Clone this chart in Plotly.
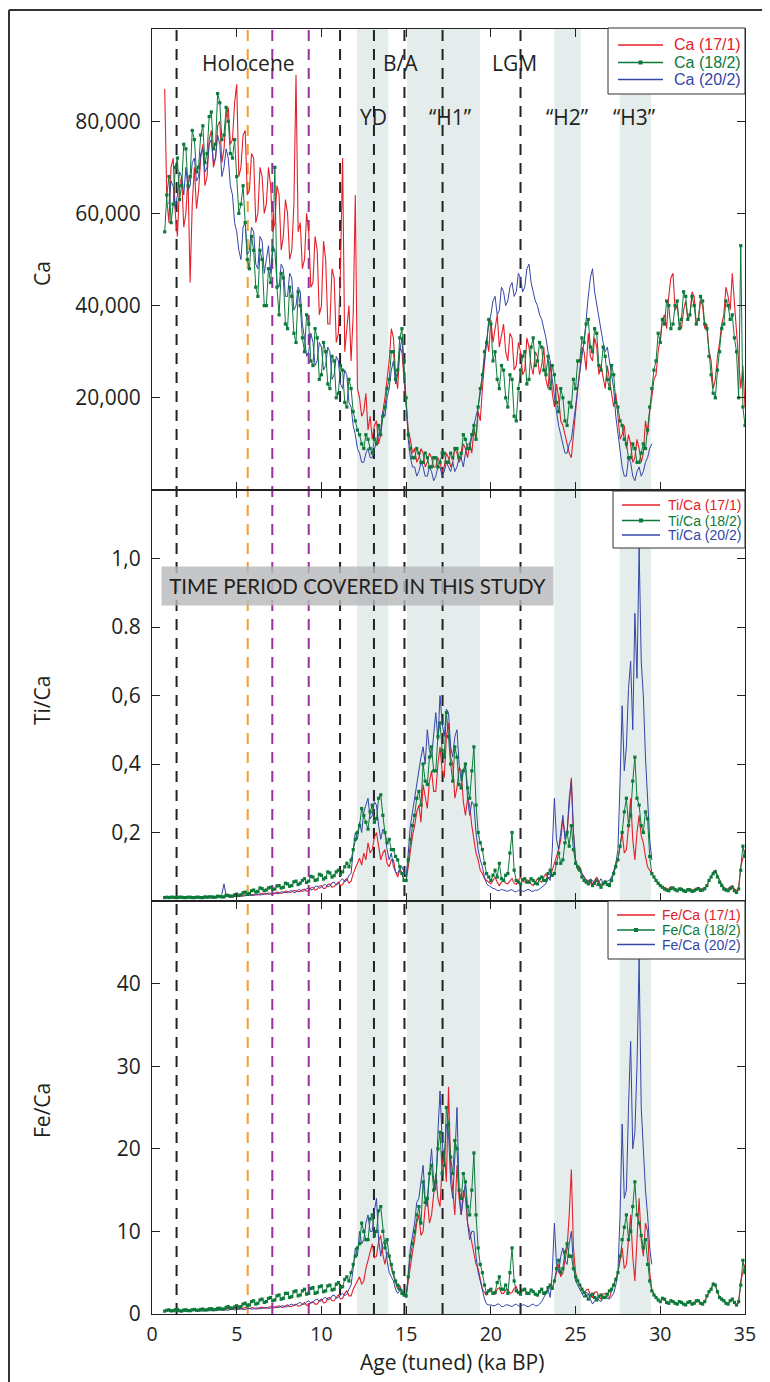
import plotly.graph_objects as go
from plotly.subplots import make_subplots

# ---------------- data ----------------
# sampling grid of the hand-read values (ka BP)
AGES = [0.75 + 0.125 * i for i in range(275)]         # 0.75 .. 35.0
BLUE_AGES = [1.0 + 0.125 * i for i in range(229)]     # 1.0 .. 29.5

# Ca counts in thousands
CA_17_1 = [87, 63, 58, 70, 72, 60, 55, 66, 68, 57, 60, 68, 45, 62, 70, 61,
           65, 72, 75, 66, 68, 76, 78, 70, 72, 79, 80, 71, 74, 81, 83, 75,
           76, 84, 88, 68, 70, 77, 78, 64, 65, 73, 72, 58, 60, 70, 68, 60,
           62, 70, 66, 56, 58, 66, 64, 52, 55, 63, 60, 50, 52, 62, 90, 56,
           58, 48, 50, 60, 56, 44, 45, 55, 52, 38, 40, 54, 50, 36, 36, 48,
           46, 32, 34, 48, 72, 30, 35, 40, 28, 38, 64, 22, 20, 16, 17, 21,
           13, 16, 11, 14, 15, 10, 12, 17, 20, 24, 28, 35, 33, 25, 22, 31,
           30, 24, 18, 13, 11, 8, 9, 6, 7, 9, 8, 5, 6, 8, 7, 5,
           5, 7, 6, 4, 5, 8, 7, 5, 6, 9, 8, 6, 7, 10, 9, 7,
           10, 8, 13, 11, 17, 15, 22, 28, 33, 30, 37, 32, 35, 38, 31, 34,
           36, 30, 28, 34, 33, 26, 27, 32, 30, 25, 26, 33, 31, 27, 25, 30,
           29, 25, 27, 31, 24, 22, 28, 21, 18, 23, 20, 15, 14, 12, 10, 8,
           7, 12, 18, 22, 26, 31, 30, 26, 34, 29, 28, 33, 31, 25, 27, 24,
           22, 27, 24, 20, 18, 21, 15, 11, 12, 14, 9, 12, 10, 6, 7, 11,
           9, 6, 8, 15, 12, 17, 20, 24, 25, 30, 33, 37, 38, 35, 42, 46,
           47, 39, 40, 36, 35, 39, 41, 37, 38, 43, 42, 36, 37, 41, 40, 35,
           36, 30, 28, 22, 24, 29, 32, 36, 38, 44, 42, 39, 47, 40, 35, 28,
           22, 27, 18]
CA_18_2 = [56, 64, 68, 58, 62, 70, 72, 63, 66, 75, 74, 66, 68, 78, 76, 69,
           70, 77, 79, 71, 73, 81, 82, 74, 75, 86, 84, 76, 77, 83, 80, 73,
           72, 76, 68, 60, 62, 66, 58, 50, 48, 55, 52, 44, 42, 52, 50, 40,
           40, 48, 45, 52, 70, 44, 38, 47, 46, 36, 35, 44, 42, 34, 32, 43,
           40, 33, 30, 38, 36, 28, 27, 35, 33, 24, 25, 32, 30, 23, 22, 29,
           28, 20, 21, 27, 26, 19, 18, 24, 22, 17, 15, 13, 12, 10, 9, 12,
           11, 9, 8, 11, 10, 14, 12, 16, 18, 22, 24, 30, 30, 24, 26, 33,
           35, 28, 20, 12, 9, 7, 7, 9, 8, 6, 6, 8, 7, 5, 5, 7,
           7, 5, 6, 8, 8, 6, 6, 8, 7, 9, 9, 7, 8, 12, 11, 9,
           9, 12, 14, 11, 18, 22, 25, 30, 32, 37, 36, 28, 30, 24, 22, 27,
           26, 20, 18, 25, 24, 16, 15, 22, 26, 29, 30, 23, 24, 31, 33, 27,
           28, 32, 31, 26, 25, 29, 22, 27, 25, 19, 17, 22, 20, 15, 14, 19,
           18, 24, 22, 28, 28, 33, 32, 36, 37, 31, 30, 35, 34, 27, 26, 31,
           29, 24, 22, 27, 25, 19, 18, 15, 14, 11, 10, 7, 7, 10, 9, 6,
           6, 8, 10, 9, 13, 18, 22, 26, 28, 34, 32, 37, 36, 41, 40, 35,
           36, 40, 41, 35, 37, 43, 42, 37, 38, 42, 40, 36, 37, 42, 41, 36,
           35, 29, 25, 21, 20, 26, 30, 35, 36, 41, 40, 37, 38, 33, 30, 20,
           53, 18, 14]
CA_20_2 = [62, 67, 66, 61, 64, 69, 68, 64, 70, 65, 66, 71, 72, 67, 68, 73,
           74, 69, 70, 75, 76, 71, 72, 77, 75, 68, 70, 74, 72, 66, 64, 58,
           56, 52, 50, 57, 58, 51, 52, 57, 56, 49, 48, 55, 54, 47, 50, 53,
           47, 53, 52, 45, 44, 49, 48, 42, 42, 47, 46, 39, 40, 44, 43, 36,
           33, 29, 30, 34, 32, 27, 28, 32, 31, 26, 27, 31, 30, 24, 25, 29,
           28, 23, 22, 26, 25, 19, 18, 14, 12, 9, 8, 6, 6, 8, 9, 7,
           7, 9, 10, 12, 13, 17, 16, 20, 22, 26, 28, 23, 25, 30, 33, 26,
           18, 11, 7, 5, 5, 3, 4, 6, 5, 3, 3, 5, 4, 2, 3, 5,
           5, 3, 4, 6, 5, 4, 6, 4, 5, 7, 7, 5, 8, 10, 10, 12,
           14, 16, 18, 21, 24, 28, 32, 36, 38, 41, 42, 38, 39, 44, 43, 40,
           41, 44, 45, 42, 43, 47, 46, 43, 44, 48, 49, 45, 43, 41, 40, 38,
           37, 35, 33, 30, 28, 24, 20, 17, 14, 12, 10, 8, 8, 10, 11, 14,
           18, 22, 26, 29, 32, 38, 42, 46, 48, 43, 40, 37, 35, 32, 30, 31,
           28, 25, 22, 16, 12, 8, 5, 3, 3, 7, 6, 3, 2, 4, 5, 3,
           4, 6, 7, 9, 10]

TICA_17_1 = [.010, .012, .011, .010, .010, .012, .012, .010, .010, .011, .011, .010, .010, .012, .012, .011,
             .011, .012, .010, .011, .012, .011, .011, .013, .012, .011, .013, .014, .012, .013, .014, .012,
             .013, .016, .015, .013, .014, .018, .017, .015, .016, .019, .019, .017, .018, .022, .021, .019,
             .020, .024, .023, .020, .022, .026, .025, .022, .024, .029, .028, .025, .026, .031, .030, .027,
             .028, .033, .035, .029, .030, .038, .040, .032, .034, .043, .045, .036, .038, .048, .050, .040,
             .042, .050, .055, .045, .048, .060, .065, .052, .058, .080, .095, .110, .125, .105, .140, .120,
             .170, .140, .150, .185, .200, .160, .120, .140, .150, .110, .100, .120, .120, .085, .070, .090,
             .080, .060, .060, .100, .150, .190, .220, .260, .280, .230, .340, .300, .270, .350, .380, .320,
             .320, .400, .450, .380, .360, .480, .520, .420, .400, .300, .330, .390, .380, .290, .250, .300,
             .280, .220, .180, .140, .120, .090, .080, .065, .060, .055, .050, .060, .070, .055, .045, .055,
             .060, .052, .050, .058, .065, .052, .048, .060, .070, .058, .055, .062, .060, .050, .045, .055,
             .065, .058, .055, .070, .080, .065, .070, .090, .110, .130, .150, .180, .240, .190, .200, .280,
             .360, .200, .120, .090, .100, .080, .070, .062, .060, .052, .050, .060, .070, .055, .045, .052,
             .060, .050, .050, .065, .090, .110, .120, .160, .200, .140, .150, .220, .300, .180, .120, .200,
             .250, .190, .170, .130, .100, .090, .080, .070, .060, .050, .045, .040, .040, .036, .035, .042,
             .040, .035, .032, .037, .038, .033, .030, .035, .036, .031, .034, .038, .040, .036, .035, .039,
             .045, .060, .070, .085, .090, .075, .060, .050, .040, .036, .035, .042, .045, .035, .030, .040,
             .100, .130, .150]
TICA_18_2 = [.010, .011, .010, .011, .011, .010, .010, .011, .011, .010, .010, .011, .011, .010, .010, .011,
             .011, .010, .010, .012, .011, .012, .012, .011, .011, .014, .013, .012, .012, .017, .016, .014,
             .014, .018, .020, .016, .018, .024, .026, .020, .022, .030, .032, .026, .028, .038, .036, .030,
             .032, .038, .040, .034, .035, .044, .045, .038, .040, .052, .050, .043, .045, .056, .058, .048,
             .052, .060, .065, .054, .058, .072, .070, .060, .062, .078, .075, .064, .068, .085, .082, .070,
             .074, .085, .090, .078, .085, .100, .110, .100, .120, .150, .180, .200, .220, .270, .250, .230,
             .210, .260, .280, .230, .240, .300, .310, .250, .200, .170, .180, .150, .150, .130, .120, .100,
             .080, .060, .060, .120, .180, .220, .250, .300, .320, .280, .400, .350, .340, .420, .450, .380,
             .380, .480, .520, .440, .420, .550, .480, .400, .350, .450, .420, .340, .330, .380, .400, .330,
             .300, .380, .450, .280, .200, .170, .150, .110, .080, .070, .060, .075, .090, .070, .110, .065,
             .060, .075, .080, .140, .200, .090, .060, .055, .050, .062, .065, .055, .055, .065, .060, .052,
             .050, .065, .070, .060, .060, .080, .090, .075, .080, .110, .140, .110, .120, .170, .200, .160,
             .220, .150, .110, .100, .090, .070, .060, .055, .050, .058, .045, .052, .060, .048, .040, .050,
             .055, .048, .045, .060, .080, .100, .120, .160, .200, .260, .300, .220, .250, .350, .420, .300,
             .280, .220, .200, .260, .240, .130, .080, .070, .060, .052, .045, .040, .035, .032, .030, .036,
             .038, .033, .030, .035, .034, .030, .028, .033, .032, .028, .030, .034, .036, .031, .032, .036,
             .045, .060, .070, .080, .085, .070, .055, .045, .035, .032, .030, .036, .040, .030, .025, .035,
             .090, .160, .130]
TICA_20_2 = [.010, .011, .010, .010, .011, .010, .010, .011, .010, .010, .011, .010, .010, .011, .010, .011,
             .011, .010, .010, .011, .011, .010, .010, .012, .011, .020, .050, .015, .012, .013, .014, .013,
             .013, .015, .016, .014, .015, .017, .018, .016, .016, .019, .020, .017, .018, .021, .022, .019,
             .020, .023, .024, .021, .022, .027, .026, .023, .024, .029, .030, .025, .026, .033, .032, .028,
             .030, .036, .038, .032, .034, .042, .044, .037, .040, .047, .048, .041, .044, .053, .055, .047,
             .050, .060, .065, .056, .060, .075, .080, .150, .200, .180, .230, .200, .260, .280, .300, .240,
             .250, .290, .280, .220, .180, .210, .200, .150, .120, .140, .100, .085, .080, .095, .100, .085,
             .070, .140, .220, .260, .300, .350, .380, .420, .450, .400, .500, .440, .420, .480, .550, .470,
             .600, .520, .480, .560, .550, .450, .420, .480, .500, .400, .350, .380, .400, .300, .250, .290,
             .280, .200, .150, .120, .100, .070, .050, .045, .040, .037, .035, .031, .030, .034, .032, .029,
             .028, .032, .033, .028, .027, .031, .032, .028, .029, .033, .034, .029, .028, .032, .031, .035,
             .040, .046, .050, .070, .060, .150, .300, .180, .150, .200, .250, .180, .200, .300, .350, .200,
             .120, .100, .090, .080, .070, .060, .055, .065, .060, .050, .045, .055, .065, .052, .050, .058,
             .060, .070, .080, .110, .150, .350, .570, .380, .450, .620, .700, .500, .840, .650, 1.030, .700,
             .600, .420, .300, .180, .120]

FECA_17_1 = [.40, .48, .55, .42, .35, .45, .50, .38, .40, .52, .60, .45, .35, .44, .50, .40,
             .45, .50, .55, .44, .40, .52, .60, .48, .45, .55, .55, .48, .50, .60, .65, .52,
             .55, .65, .70, .58, .60, .72, .80, .66, .65, .78, .75, .62, .60, .78, .85, .70,
             .70, .82, .90, .74, .75, .95, 1.0, .82, .80, 1.0, 1.1, .88, .90, 1.1, 1.2, .95,
             1.0, 1.2, 1.4, 1.05, 1.1, 1.4, 1.5, 1.2, 1.2, 1.6, 1.8, 1.35, 1.4, 1.9, 2.0, 1.6,
             1.6, 2.0, 2.3, 1.8, 1.9, 2.5, 2.8, 2.2, 2.2, 3.0, 3.5, 4.0, 4.5, 3.6, 4.0, 5.5,
             6.5, 7.5, 8.5, 6.8, 7.0, 8.8, 9.5, 7.2, 6.0, 7.5, 7.0, 5.5, 4.5, 3.8, 3.0, 3.5,
             2.5, 2.2, 2.0, 4.0, 6.0, 7.5, 9.0, 11.0, 12.0, 9.5, 10.0, 13.0, 14.0, 11.0, 12.0, 15.0,
             17.0, 14.0, 13.0, 18.0, 20.0, 16.0, 27.5, 18.0, 15.0, 12.0, 18.0, 14.0, 12.0, 15.0, 14.0, 11.0,
             10.0, 8.5, 7.0, 6.0, 5.5, 4.0, 3.0, 2.6, 2.3, 2.9, 2.8, 2.4, 2.4, 3.0, 3.2, 2.5,
             2.5, 2.9, 3.0, 2.5, 2.6, 3.1, 3.3, 2.6, 2.4, 2.9, 3.0, 2.5, 2.5, 2.9, 2.8, 2.4,
             2.2, 2.6, 3.0, 2.4, 2.5, 3.0, 3.5, 3.0, 4.0, 5.0, 6.0, 4.5, 5.0, 6.5, 8.0, 12.0,
             17.5, 8.0, 5.0, 4.0, 3.5, 3.0, 2.5, 2.9, 3.0, 2.3, 2.0, 2.6, 2.7, 2.1, 1.8, 2.4,
             2.5, 2.1, 2.0, 2.8, 3.5, 4.2, 5.0, 6.5, 8.0, 5.5, 6.0, 9.0, 12.0, 7.0, 4.0, 9.0,
             14.0, 9.0, 7.0, 11.0, 10.0, 5.0, 3.0, 2.4, 2.0, 1.7, 1.5, 1.8, 1.7, 1.4, 1.3, 1.6,
             1.6, 1.3, 1.2, 1.5, 1.5, 1.2, 1.1, 1.4, 1.4, 1.1, 1.2, 1.5, 1.6, 1.3, 1.3, 1.6,
             2.0, 2.6, 3.0, 3.8, 3.5, 2.6, 2.0, 1.7, 1.5, 1.3, 1.2, 1.6, 1.8, 1.3, 1.0, 1.4,
             4.0, 5.0, 6.0]
FECA_18_2 = [.35, .45, .50, .38, .40, .52, .55, .40, .35, .48, .50, .42, .40, .50, .55, .45,
             .45, .55, .60, .48, .50, .62, .65, .52, .55, .68, .70, .58, .60, .80, .90, .72,
             .70, .85, 1.0, .82, .90, 1.2, 1.3, 1.0, 1.1, 1.5, 1.6, 1.2, 1.3, 1.7, 1.8, 1.4,
             1.5, 1.9, 2.0, 1.6, 1.7, 2.2, 2.3, 1.8, 1.9, 2.5, 2.5, 2.0, 2.1, 2.7, 2.8, 2.2,
             2.3, 2.8, 3.0, 2.4, 2.5, 3.1, 3.2, 2.5, 2.6, 3.3, 3.4, 2.7, 2.8, 3.4, 3.5, 2.9,
             3.0, 3.6, 3.8, 3.2, 3.3, 4.2, 4.5, 4.0, 5.0, 6.0, 7.0, 8.0, 8.5, 11.0, 10.0, 9.0,
             9.0, 11.5, 12.0, 9.5, 10.0, 12.5, 13.0, 10.0, 8.0, 9.0, 7.0, 6.0, 5.0, 4.0, 3.5, 3.0,
             2.5, 2.3, 2.2, 4.5, 7.0, 8.5, 10.0, 12.0, 13.0, 11.0, 16.0, 13.5, 14.0, 17.0, 18.0, 15.0,
             16.0, 20.0, 22.0, 17.0, 18.0, 25.0, 23.0, 19.0, 17.0, 21.0, 20.0, 15.0, 14.0, 17.0, 16.0, 13.0,
             12.0, 15.0, 19.5, 12.0, 8.0, 6.0, 5.0, 3.5, 2.5, 2.8, 3.0, 2.5, 2.6, 3.8, 4.5, 3.0,
             3.0, 3.5, 2.5, 5.0, 8.0, 4.0, 2.8, 2.6, 2.4, 2.9, 3.0, 2.5, 2.5, 2.9, 2.7, 2.4,
             2.3, 2.7, 3.0, 2.5, 2.6, 3.2, 3.5, 3.1, 4.0, 5.5, 6.5, 5.0, 5.5, 7.5, 8.5, 7.0,
             7.0, 5.5, 4.5, 4.0, 3.5, 3.0, 2.6, 2.2, 1.8, 2.2, 2.4, 2.0, 1.7, 2.1, 2.3, 2.0,
             2.0, 2.4, 2.8, 3.0, 3.5, 4.2, 5.0, 7.0, 9.0, 10.5, 12.0, 9.0, 10.0, 13.0, 16.0, 12.0,
             11.0, 9.5, 8.0, 9.0, 6.0, 4.0, 2.8, 2.3, 2.0, 1.7, 1.5, 1.9, 1.8, 1.4, 1.3, 1.6,
             1.5, 1.3, 1.2, 1.5, 1.4, 1.2, 1.1, 1.4, 1.5, 1.2, 1.3, 1.6, 1.6, 1.3, 1.2, 1.5,
             2.2, 2.7, 3.0, 3.6, 3.5, 2.7, 2.0, 1.8, 1.6, 1.3, 1.2, 1.6, 1.8, 1.4, 1.1, 1.5,
             3.5, 6.5, 5.0]
FECA_20_2 = [.30, .36, .40, .32, .35, .42, .45, .34, .30, .38, .40, .33, .35, .42, .45, .36,
             .35, .45, .50, .40, .40, .48, .45, .42, .50, .56, .60, .48, .45, .55, .60, .50,
             .50, .60, .65, .54, .55, .66, .70, .58, .60, .72, .75, .62, .65, .76, .80, .68,
             .70, .82, .90, .76, .80, .95, 1.0, .85, .90, 1.1, 1.2, 1.0, 1.1, 1.3, 1.4, 1.15,
             1.2, 1.45, 1.6, 1.3, 1.4, 1.7, 1.8, 1.5, 1.6, 1.9, 2.0, 1.7, 1.8, 2.2, 2.3, 1.9,
             2.0, 2.3, 2.5, 2.2, 2.4, 3.0, 3.5, 5.5, 8.0, 7.0, 10.0, 8.5, 9.0, 11.0, 12.0, 10.0,
             10.0, 12.5, 14.0, 9.0, 7.0, 8.5, 9.0, 6.5, 5.0, 4.5, 4.0, 3.0, 2.5, 2.8, 3.0, 2.4,
             2.0, 5.0, 8.0, 9.5, 11.0, 13.5, 14.0, 16.0, 18.0, 14.0, 13.0, 17.0, 20.0, 16.0, 15.0, 22.0,
             27.0, 21.0, 18.0, 23.0, 22.0, 16.0, 14.0, 19.0, 25.0, 15.0, 12.0, 14.0, 16.0, 11.0, 9.0, 10.0,
             10.0, 7.0, 5.0, 4.0, 3.0, 1.8, 1.2, 1.1, 1.1, 1.0, 1.0, 1.2, 1.2, 0.9, 0.9, 1.1,
             1.1, 1.0, 0.9, 1.1, 1.2, 1.0, 1.0, 1.1, 1.1, 0.9, 0.9, 1.1, 1.2, 1.0, 1.0, 1.2,
             1.5, 2.0, 2.5, 3.0, 2.0, 5.0, 11.0, 6.0, 5.0, 7.0, 8.0, 6.5, 6.0, 8.5, 10.0, 6.0,
             4.0, 3.5, 3.0, 2.4, 2.0, 2.6, 2.5, 1.8, 1.2, 1.6, 2.0, 1.7, 1.5, 2.0, 2.2, 1.9,
             1.8, 2.1, 2.5, 3.5, 5.0, 12.0, 23.0, 14.0, 15.0, 25.0, 33.0, 20.0, 22.0, 30.0, 43.0, 25.0,
             20.0, 15.0, 12.0, 8.0, 6.0]

# event markers (ka BP)
BLACK_LINES = [1.45, 11.1, 13.1, 14.9, 17.15, 21.75]
ORANGE_LINES = [5.65]
PURPLE_LINES = [7.1, 9.25]
SHADED = [(12.1, 13.95), (15.05, 19.35), (23.75, 25.3), (27.6, 29.45)]

TOP_LABELS = [("Holocene", 5.7), ("B/A", 14.65), ("LGM", 21.4)]
MID_LABELS = [("YD", 13.1), ("\u201cH1\u201d", 17.6), ("\u201cH2\u201d", 24.5), ("\u201cH3\u201d", 28.5)]

SERIES_LABELS = ["(17/1)", "(18/2)", "(20/2)"]
CA_TICKS = [20, 40, 60, 80]
CA_TICK_TEXT = ["20,000", "40,000", "60,000", "80,000"]
TI_TICKS = [0.2, 0.4, 0.6, 0.8, 1.0]
TI_TICK_TEXT = ["0,2", "0,4", "0,6", "0.8", "1,0"]
FE_TICKS = [0, 10, 20, 30, 40]
X_TICKS = [0, 5, 10, 15, 20, 25, 30, 35]

# ---------------- styling ----------------
RED = "#e5202a"
GREEN = "#0c7a3a"
BLUE = "#3445a8"
TXT = "#231f20"
FONT = "Open Sans"
LEGFONT = "Liberation Sans"

# plot area in page pixels: x 152..745, y 29..1314
def PX(X):
    return (X - 152) / 593.0


def PY(Y):
    return (1314 - Y) / 1285.0


assert len(CA_17_1) == len(AGES) == len(CA_18_2) == len(TICA_17_1) == len(TICA_18_2), \
    (len(CA_17_1), len(CA_18_2), len(TICA_17_1), len(TICA_18_2))
assert len(FECA_17_1) == len(AGES) == len(FECA_18_2), (len(FECA_17_1), len(FECA_18_2))
assert len(CA_20_2) == len(BLUE_AGES) == len(TICA_20_2) == len(FECA_20_2), \
    (len(CA_20_2), len(TICA_20_2), len(FECA_20_2))

fig = make_subplots(rows=3, cols=1, shared_xaxes=True, vertical_spacing=0,
                    row_heights=[461, 411, 413])

panels = [
    ("Ca", CA_17_1, CA_18_2, CA_20_2),
    ("Ti/Ca", TICA_17_1, TICA_18_2, TICA_20_2),
    ("Fe/Ca", FECA_17_1, FECA_18_2, FECA_20_2),
]

for r, (lab, red, green, blue) in enumerate(panels, start=1):
    fig.add_trace(go.Scatter(
        x=AGES, y=red, mode="lines", line=dict(color=RED, width=1.1),
        name=f"{lab} {SERIES_LABELS[0]}", showlegend=False), row=r, col=1)
    fig.add_trace(go.Scatter(
        x=BLUE_AGES, y=blue, mode="lines", line=dict(color=BLUE, width=1.0),
        name=f"{lab} {SERIES_LABELS[2]}", showlegend=False), row=r, col=1)
    fig.add_trace(go.Scatter(
        x=AGES, y=green, mode="lines+markers",
        line=dict(color=GREEN, width=1.0),
        marker=dict(symbol="square", size=3.2, color=GREEN),
        name=f"{lab} {SERIES_LABELS[1]}", showlegend=False), row=r, col=1)

shapes = []
for x0, x1 in SHADED:
    shapes.append(dict(type="rect", xref="x", yref="paper", x0=x0, x1=x1, y0=0, y1=1,
                       fillcolor="#e4ecec", line=dict(width=0), layer="below"))
for color, xs in (("#222222", BLACK_LINES), ("#f59d2e", ORANGE_LINES), ("#9a2f9e", PURPLE_LINES)):
    for xv in xs:
        shapes.append(dict(type="line", xref="x", yref="paper", x0=xv, x1=xv, y0=0, y1=1,
                           line=dict(color=color, width=2, dash="11px,8px"), layer="below"))
# outer frame (top and left)
shapes.append(dict(type="line", xref="paper", yref="paper", x0=PX(9), x1=PX(772),
                   y0=PY(10), y1=PY(10), line=dict(color="#333", width=2)))
shapes.append(dict(type="line", xref="paper", yref="paper", x0=PX(9), x1=PX(9),
                   y0=PY(10), y1=PY(1384), line=dict(color="#333", width=2)))

annotations = []

# hand-built legend boxes (one per panel)
LEGENDS = [
    dict(label="Ca", box=(608, 28, 745, 94), line=(618, 663), rows=(45, 62.5, 79.5), tx=672, size=16),
    dict(label="Ti/Ca", box=(613, 491, 745, 548), line=(622, 660), rows=(505, 520.5, 535), tx=666, size=14),
    dict(label="Fe/Ca", box=(608, 901, 745, 959), line=(617, 655), rows=(915, 930, 944.5), tx=660, size=14),
]
for lg in LEGENDS:
    bx0, by0, bx1, by1 = lg["box"]
    shapes.append(dict(type="rect", xref="paper", yref="paper", x0=PX(bx0), x1=PX(bx1),
                       y0=PY(by0), y1=PY(by1), fillcolor="white",
                       line=dict(color="#333", width=1)))
    lx0, lx1 = lg["line"]
    for (col, suffix), yy in zip(((RED, SERIES_LABELS[0]), (GREEN, SERIES_LABELS[1]),
                                   (BLUE, SERIES_LABELS[2])), lg["rows"]):
        shapes.append(dict(type="line", xref="paper", yref="paper", x0=PX(lx0), x1=PX(lx1),
                           y0=PY(yy), y1=PY(yy), line=dict(color=col, width=1.3)))
        if col == GREEN:
            cx = (lx0 + lx1) / 2
            shapes.append(dict(type="rect", xref="paper", yref="paper",
                               x0=PX(cx - 2), x1=PX(cx + 2), y0=PY(yy - 2), y1=PY(yy + 2),
                               fillcolor=GREEN, line=dict(width=0)))
        annotations.append(dict(text=f"{lg['label']} {suffix}", x=PX(lg["tx"]), y=PY(yy),
                                xref="paper", yref="paper", xanchor="left", yanchor="middle",
                                showarrow=False,
                                font=dict(family=LEGFONT, size=lg["size"], color=col)))

for t, xv in TOP_LABELS:
    annotations.append(dict(text=t, x=xv, xref="x", y=PY(63), yref="paper", showarrow=False,
                            xanchor="center", yanchor="middle",
                            font=dict(family=FONT, size=21, color=TXT)))
for t, xv in MID_LABELS:
    annotations.append(dict(text=t, x=xv, xref="x", y=PY(117), yref="paper", showarrow=False,
                            xanchor="center", yanchor="middle",
                            font=dict(family=FONT, size=21, color=TXT)))
annotations.append(dict(text="TIME PERIOD COVERED IN THIS STUDY", x=PX(357.5), y=PY(586),
                        xref="paper", yref="paper", showarrow=False,
                        xanchor="center", yanchor="middle",
                        width=389, height=36, bgcolor="rgba(184,185,188,0.82)",
                        font=dict(family="Lato", size=20.5, color=TXT)))
for t, yy in (("Ca", 274), ("Ti/Ca", 701), ("Fe/Ca", 1111)):
    annotations.append(dict(text=t, x=PX(42), y=PY(yy), xref="paper", yref="paper",
                            textangle=-90, showarrow=False, xanchor="center", yanchor="middle",
                            font=dict(family=FONT, size=21, color=TXT)))
annotations.append(dict(text="Age (tuned) (ka BP)", x=PX(452), y=PY(1362), xref="paper",
                        yref="paper", showarrow=False, xanchor="center", yanchor="middle",
                        font=dict(family=FONT, size=21, color=TXT)))

axis_common = dict(showline=True, linecolor="#222", linewidth=1, mirror="ticks",
                   ticks="inside", ticklen=8, tickcolor="#222", tickwidth=1,
                   showgrid=False, zeroline=False)

fig.update_xaxes(range=[0, 35], tickvals=X_TICKS, ticklabelstandoff=3,
                 tickfont=dict(family=FONT, size=19.5, color=TXT), **axis_common)
fig.update_xaxes(showticklabels=False, row=1, col=1)
fig.update_xaxes(showticklabels=False, row=2, col=1)
fig.update_yaxes(ticklabelstandoff=6, tickfont=dict(family=FONT, size=21, color=TXT),
                 **axis_common)
fig.update_yaxes(range=[0, 100], tickvals=CA_TICKS, ticktext=CA_TICK_TEXT, row=1, col=1)
fig.update_yaxes(range=[0, 1.2], tickvals=TI_TICKS, ticktext=TI_TICK_TEXT, row=2, col=1)
fig.update_yaxes(range=[0, 50], tickvals=FE_TICKS, row=3, col=1)

# the page body adds an 8 px offset; the figure is sized so the plot area lands on
# page pixels x 152..745, y 29..1314
fig.update_layout(
    width=762, height=1374,
    margin=dict(l=144, r=25, t=21, b=68),
    paper_bgcolor="white", plot_bgcolor="rgba(0,0,0,0)",
    showlegend=False,
    shapes=shapes, annotations=annotations,
)

fig.write_html("out.html")
